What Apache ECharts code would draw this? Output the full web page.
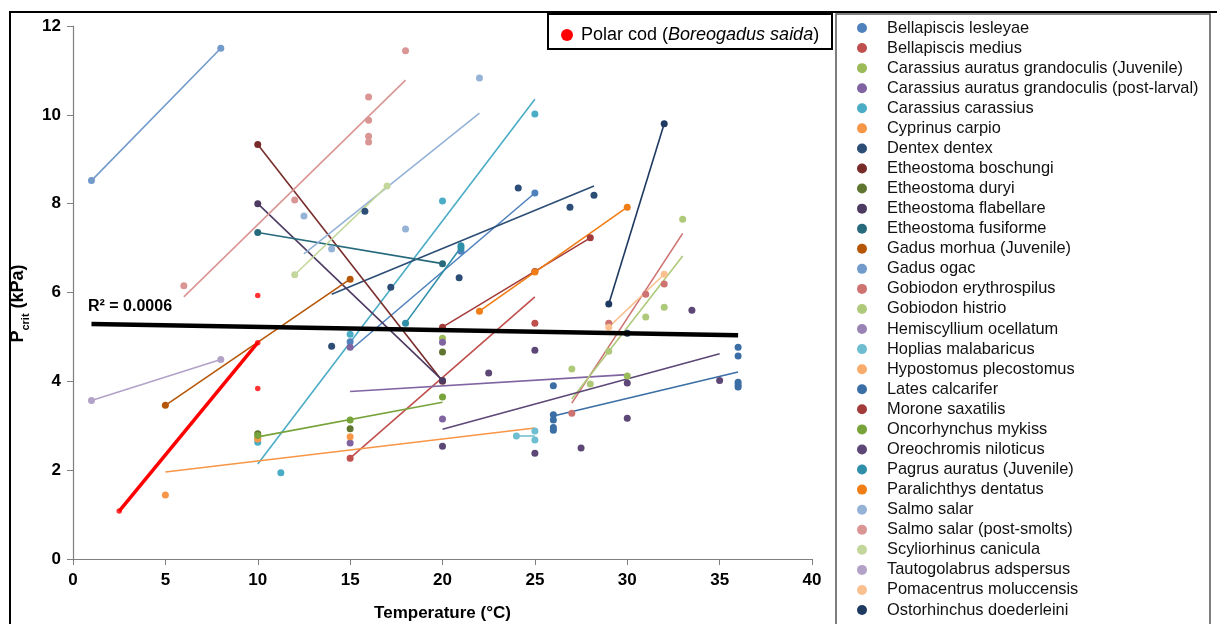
<!DOCTYPE html>
<html>
<head>
<meta charset="utf-8">
<script src="https://cdn.jsdelivr.net/npm/echarts@6/dist/echarts.min.js"></script>
<style>
html,body{margin:0;padding:0;background:#fff;}
#c{width:1217px;height:624px;}
</style>
</head>
<body>
<div id="c"></div>
<script>
// ---- axis ticks ----
const xTicks = [0, 5, 10, 15, 20, 25, 30, 35, 40];
const yTicks = [0, 2, 4, 6, 8, 10, 12];

// ---- species (legend order) ----
const species = [
  'Bellapiscis lesleyae', 'Bellapiscis medius', 'Carassius auratus grandoculis (Juvenile)',
  'Carassius auratus grandoculis (post-larval)', 'Carassius carassius', 'Cyprinus carpio',
  'Dentex dentex', 'Etheostoma boschungi', 'Etheostoma duryi', 'Etheostoma flabellare',
  'Etheostoma fusiforme', 'Gadus morhua (Juvenile)', 'Gadus ogac', 'Gobiodon erythrospilus',
  'Gobiodon histrio', 'Hemiscyllium ocellatum', 'Hoplias malabaricus', 'Hypostomus plecostomus',
  'Lates calcarifer', 'Morone saxatilis', 'Oncorhynchus mykiss', 'Oreochromis niloticus',
  'Pagrus auratus (Juvenile)', 'Paralichthys dentatus', 'Salmo salar', 'Salmo salar (post-smolts)',
  'Scyliorhinus canicula', 'Tautogolabrus adspersus', 'Pomacentrus moluccensis', 'Ostorhinchus doederleini'
];
const speciesColors = [
  '#4f81bd', '#c0504d', '#9bbb59', '#8064a2', '#4bacc6', '#f79646',
  '#2c4d75', '#772c2a', '#5f7530', '#4d3b62', '#276a7c', '#b65708',
  '#729aca', '#cd7371', '#afc97a', '#9983b5', '#6fbdd1', '#f9ab6b',
  '#3a6ea5', '#a33b3a', '#77a33a', '#5c4776', '#2f8fa8', '#f07d15',
  '#95b3d7', '#d99694', '#c3d69b', '#b3a2c7', '#fac090', '#1f3a60'
];

// ---- measured points [temperature, Pcrit] ----
const ptsBellapiscisLesleyae = [[15, 4.89], [21, 6.93], [25, 8.24]];
const ptsBellapiscisMedius = [[15, 2.27], [25, 5.31]];
const ptsCagJuvenile = [[10, 2.72], [20, 4.97], [30, 4.12]];
const ptsCagPostLarval = [[15, 4.77], [15, 2.61], [20, 4.88], [20, 3.15]];
const ptsCarassiusCarassius = [[10, 2.63], [11.25, 1.94], [15, 5.06], [20, 8.06], [25, 10.02]];
const ptsCyprinusCarpio = [[5, 1.44], [10, 2.7], [15, 2.75]];
const ptsDentexDentex = [[14, 4.79], [15.8, 7.83], [17.2, 6.12], [20.9, 6.33], [24.1, 8.35], [26.9, 7.92], [28.2, 8.19]];
const ptsEtheostomaBoschungi = [[10, 9.33], [20, 4.0]];
const ptsEtheostomaDuryi = [[10, 2.82], [15, 2.93], [20, 4.66]];
const ptsEtheostomaFlabellare = [[10, 8.0], [20, 4.02]];
const ptsEtheostomaFusiforme = [[10, 7.35], [20, 6.65]];
const ptsGadusMorhua = [[5, 3.46], [15, 6.3]];
const ptsGadusOgac = [[1, 8.52], [8, 11.5]];
const ptsGobiodonErythrospilus = [[27, 3.28], [29, 5.31], [31, 5.96], [32, 6.19]];
const ptsGobiodonHistrio = [[27, 4.28], [28, 3.94], [29, 4.68], [31, 5.45], [32, 5.67], [33, 7.65]];
const ptsHemiscyllium = [];
const ptsHopliasMalabaricus = [[24, 2.77], [25, 2.88], [25, 2.68]];
const ptsHypostomus = [];
const ptsLatesCalcarifer = [[26, 3.9], [26, 3.25], [26, 3.13], [26, 2.96], [26, 2.9], [36, 4.77], [36, 4.57], [36, 3.98], [36, 3.92], [36, 3.87]];
const ptsMoroneSaxatilis = [[20, 5.22], [25, 6.47], [28, 7.23]];
const ptsOncorhynchusMykiss = [[10, 2.78], [15, 3.13], [20, 3.65]];
const ptsOreochromisNiloticus = [[20, 2.54], [22.5, 4.19], [25, 4.7], [25, 2.38], [27.5, 2.5], [30, 3.96], [30, 3.17], [33.5, 5.6], [35, 4.02]];
const ptsPagrusAuratus = [[18, 5.31], [21, 7.0], [21, 7.05]];
const ptsParalichthysDentatus = [[22, 5.58], [25, 6.46], [30, 7.92]];
const ptsSalmoSalar = [[12.5, 7.72], [14, 6.98], [18, 7.43], [22, 10.83]];
const ptsSalmoSalarPS = [[6, 6.15], [12, 8.08], [16, 10.4], [16, 9.88], [16, 9.52], [16, 9.39], [18, 11.44]];
const ptsScyliorhinus = [[12, 6.4], [17, 8.4]];
const ptsTautogolabrus = [[1, 3.57], [8, 4.49]];
const ptsPomacentrus = [[29, 5.22], [32, 6.41]];
const ptsOstorhinchus = [[29, 5.74], [30, 5.08], [32, 9.8]];

// ---- fitted lines per species [start, end] ----
const fitBellapiscisLesleyae = [[15, 4.7], [25, 8.24]];
const fitBellapiscisMedius = [[15, 2.27], [25, 5.9]];
const fitCagPostLarval = [[15, 3.77], [30, 4.15]];
const fitCarassiusCarassius = [[10, 2.14], [25, 10.35]];
const fitCyprinusCarpio = [[5, 1.96], [25, 2.95]];
const fitDentexDentex = [[14, 5.96], [28.2, 8.4]];
const fitEtheostomaBoschungi = [[10, 9.33], [20, 4.0]];
const fitEtheostomaFlabellare = [[10, 8.0], [20, 4.02]];
const fitEtheostomaFusiforme = [[10, 7.35], [20, 6.65]];
const fitGadusMorhua = [[5, 3.46], [15, 6.3]];
const fitGadusOgac = [[1, 8.52], [8, 11.5]];
const fitGobiodonErythrospilus = [[27, 3.51], [33, 7.33]];
const fitGobiodonHistrio = [[27, 3.6], [33, 6.82]];
const fitHopliasMalabaricus = [[24, 2.77], [25, 2.77]];
const fitLatesCalcarifer = [[26, 3.22], [36, 4.21]];
const fitMoroneSaxatilis = [[20, 5.22], [28, 7.23]];
const fitOncorhynchusMykiss = [[10, 2.75], [20, 3.53]];
const fitOreochromisNiloticus = [[20, 2.92], [35, 4.62]];
const fitPagrusAuratus = [[18, 5.31], [21, 7.02]];
const fitParalichthysDentatus = [[22, 5.58], [30, 7.92]];
const fitSalmoSalar = [[12.5, 6.87], [22, 10.04]];
const fitSalmoSalarPS = [[6, 5.9], [18, 10.78]];
const fitScyliorhinus = [[12, 6.4], [17, 8.4]];
const fitTautogolabrus = [[1, 3.57], [8, 4.49]];
const fitPomacentrus = [[29, 5.22], [32, 6.41]];
const fitOstorhinchus = [[29, 5.74], [32, 9.8]];

// ---- polar cod and overall fit ----
const polarCodName = 'Polar cod';
const ptsPolarCod = [[2.5, 1.08], [10, 4.87], [10, 3.84], [10, 5.93]];
const fitPolarCod = [[2.5, 1.08], [10, 4.87]];
const fitAll = [[1, 5.29], [36, 5.04]];
const r2Text = 'R² = 0.0006';

const speciesPoints = [
  ptsBellapiscisLesleyae, ptsBellapiscisMedius, ptsCagJuvenile, ptsCagPostLarval, ptsCarassiusCarassius,
  ptsCyprinusCarpio, ptsDentexDentex, ptsEtheostomaBoschungi, ptsEtheostomaDuryi, ptsEtheostomaFlabellare,
  ptsEtheostomaFusiforme, ptsGadusMorhua, ptsGadusOgac, ptsGobiodonErythrospilus, ptsGobiodonHistrio,
  ptsHemiscyllium, ptsHopliasMalabaricus, ptsHypostomus, ptsLatesCalcarifer, ptsMoroneSaxatilis,
  ptsOncorhynchusMykiss, ptsOreochromisNiloticus, ptsPagrusAuratus, ptsParalichthysDentatus, ptsSalmoSalar,
  ptsSalmoSalarPS, ptsScyliorhinus, ptsTautogolabrus, ptsPomacentrus, ptsOstorhinchus
];
const speciesFits = [
  fitBellapiscisLesleyae, fitBellapiscisMedius, null, fitCagPostLarval, fitCarassiusCarassius,
  fitCyprinusCarpio, fitDentexDentex, fitEtheostomaBoschungi, null, fitEtheostomaFlabellare,
  fitEtheostomaFusiforme, fitGadusMorhua, fitGadusOgac, fitGobiodonErythrospilus, fitGobiodonHistrio,
  null, fitHopliasMalabaricus, null, fitLatesCalcarifer, fitMoroneSaxatilis,
  fitOncorhynchusMykiss, fitOreochromisNiloticus, fitPagrusAuratus, fitParalichthysDentatus, fitSalmoSalar,
  fitSalmoSalarPS, fitScyliorhinus, fitTautogolabrus, fitPomacentrus, fitOstorhinchus
];

const series = [];
species.forEach((name, i) => {
  series.push({
    name: name, type: 'scatter', data: speciesPoints[i], symbol: 'circle', symbolSize: 7,
    itemStyle: { color: speciesColors[i], opacity: 1 }, z: 3
  });
});
species.forEach((name, i) => {
  if (!speciesFits[i]) return;
  series.push({
    name: name, type: 'line', data: speciesFits[i], showSymbol: false, symbol: 'none',
    lineStyle: { color: speciesColors[i], width: 1.6 }, itemStyle: { color: speciesColors[i] }, z: 2, silent: true
  });
});
series.push({
  name: 'All species fit', type: 'line', data: fitAll, showSymbol: false, symbol: 'none',
  lineStyle: { color: '#000', width: 4.5 }, z: 4, silent: true
});
series.push({
  name: polarCodName, type: 'line', data: fitPolarCod, showSymbol: false, symbol: 'none',
  lineStyle: { color: '#ff0000', width: 3.5 }, itemStyle: { color: '#ff0000' }, z: 5, silent: true
});
series.push({
  name: polarCodName, type: 'scatter', data: ptsPolarCod, symbol: 'circle', symbolSize: 5.5,
  itemStyle: { color: '#ff0000' }, z: 6
});

const chart = echarts.init(document.getElementById('c'), null, { renderer: 'canvas' });
chart.setOption({
  animation: false,
  backgroundColor: '#fff',
  grid: { left: 73, right: 405, top: 26, bottom: 65, containLabel: false, outerBoundsMode: 'none' },
  xAxis: {
    type: 'value', min: xTicks[0], max: xTicks[xTicks.length - 1], interval: 5,
    name: 'Temperature (°C)', nameLocation: 'middle', nameGap: 46,
    nameTextStyle: { fontFamily: 'Liberation Sans', fontWeight: 'bold', fontSize: 17, color: '#000' },
    axisLine: { show: true, lineStyle: { color: '#7f7f7f', width: 1.2 } },
    axisTick: { show: true, inside: false, length: 6, lineStyle: { color: '#7f7f7f' } },
    axisLabel: { fontFamily: 'Liberation Sans', fontWeight: 'bold', fontSize: 17, color: '#000', margin: 13 },
    splitLine: { show: false }
  },
  yAxis: {
    type: 'value', min: yTicks[0], max: yTicks[yTicks.length - 1], interval: 2,
    name: '{a|P}{b|crit}{a| (kPa)}{s|}', nameLocation: 'middle', nameGap: 37, nameRotate: 90,
    nameTextStyle: {
      rich: {
        a: { fontFamily: 'Liberation Sans', fontWeight: 'bold', fontSize: 18, color: '#000' },
        b: { fontFamily: 'Liberation Sans', fontWeight: 'bold', fontSize: 11, color: '#000', verticalAlign: 'bottom', padding: [0, 0, -4, 0] },
        s: { width: 22 }
      }
    },
    axisLine: { show: true, lineStyle: { color: '#7f7f7f', width: 1.2 } },
    axisTick: { show: true, inside: false, length: 6, lineStyle: { color: '#7f7f7f' } },
    axisLabel: { fontFamily: 'Liberation Sans', fontWeight: 'bold', fontSize: 17, color: '#000', margin: 12 },
    splitLine: { show: false }
  },
  legend: [
    {
      data: [{ name: polarCodName, icon: 'circle' }],
      left: 556, top: 21, itemWidth: 12, itemHeight: 12, itemGap: 0,
      selectedMode: false,
      formatter: () => 'Polar cod ({i|Boreogadus saida})',
      textStyle: {
        fontFamily: 'Liberation Sans', fontSize: 18, color: '#000', padding: [0, 0, 0, 3],
        rich: { i: { fontFamily: 'Liberation Sans', fontSize: 18, fontStyle: 'italic', color: '#000' } }
      }
    },
    {
      data: species.map(n => ({ name: n, icon: 'circle' })),
      orient: 'vertical', left: 852, top: 14, height: 612, itemWidth: 10, itemHeight: 10, itemGap: 2.07,
      selectedMode: false,
      textStyle: { fontFamily: 'Liberation Sans', fontSize: 16.4, color: '#111', lineHeight: 18, padding: [0, 0, 0, 15] }
    }
  ],
  graphic: [
    { type: 'rect', shape: { x: 10, y: 12, width: 1230, height: 700 }, style: { fill: 'none', stroke: '#000', lineWidth: 2 }, silent: true },
    { type: 'rect', shape: { x: 548, y: 14, width: 284, height: 35 }, style: { fill: '#fff', stroke: '#000', lineWidth: 2 }, z: -1, silent: true },
    { type: 'rect', shape: { x: 836, y: 14, width: 374, height: 640 }, style: { fill: '#fff', stroke: '#555', lineWidth: 1.5 }, z: -1, silent: true },
    { type: 'text', left: 88, top: 299, style: { text: r2Text, fontFamily: 'Liberation Sans', fontWeight: 'bold', fontSize: 16, fill: '#000' }, silent: true }
  ],
  series: series
});
</script>
</body>
</html>
